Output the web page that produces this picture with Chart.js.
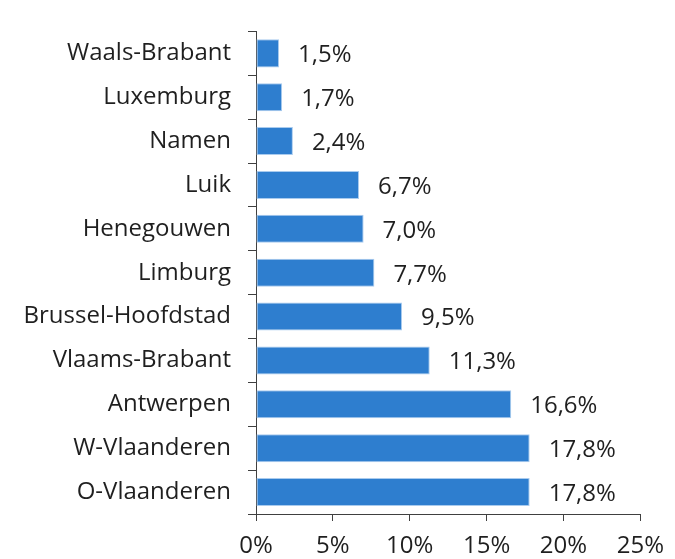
<!DOCTYPE html>
<html>
<head>
<meta charset="utf-8">
<script src="https://cdn.jsdelivr.net/npm/chart.js@4/dist/chart.umd.min.js"></script>
<style>
  html, body { margin: 0; padding: 0; background: #ffffff; }
  #wrap { width: 675px; height: 559px; }
</style>
</head>
<body>
<div id="wrap"><canvas id="provChart"></canvas></div>
<script>
// Categorieën en waarden (aandeel in %)
const provinces = ['Waals-Brabant', 'Luxemburg', 'Namen', 'Luik', 'Henegouwen', 'Limburg',
    'Brussel-Hoofdstad', 'Vlaams-Brabant', 'Antwerpen', 'W-Vlaanderen', 'O-Vlaanderen'];
const shares = [1.5, 1.7, 2.4, 6.7, 7.0, 7.7, 9.5, 11.3, 16.6, 17.8, 17.8];
const xTicks = [0, 5, 10, 15, 20, 25];

const fmtPct = v => v.toFixed(1).replace('.', ',') + '%';

// Labels rechts van de balken
const valueLabels = {
    id: 'valueLabels',
    afterDatasetsDraw(chart) {
        const ctx = chart.ctx;
        const meta = chart.getDatasetMeta(0);
        ctx.save();
        ctx.font = '24px "Open Sans"';
        ctx.fillStyle = '#1f1f1f';
        ctx.textAlign = 'left';
        ctx.textBaseline = 'middle';
        meta.data.forEach((bar, i) => {
            ctx.fillText(fmtPct(shares[i]), bar.x + 19, bar.y + 2);
        });
        ctx.restore();
    }
};

new Chart(document.getElementById('provChart').getContext('2d'), {
    type: 'bar',
    data: {
        labels: provinces,
        datasets: [{
            data: shares,
            backgroundColor: '#2E7ECF',
            borderColor: '#A9CBEE',
            borderWidth: 1,
            borderSkipped: false,
            categoryPercentage: 1,
            barPercentage: 0.64
        }]
    },
    options: {
        indexAxis: 'y',
        responsive: true,
        maintainAspectRatio: false,
        animation: false,
        layout: { padding: { top: 9, right: 31, left: 0, bottom: 0 } },
        scales: {
            x: {
                min: 0,
                max: 25,
                afterBuildTicks: scale => { scale.ticks = xTicks.map(v => ({ value: v })); },
                afterFit: scale => { scale.height = 45; },
                ticks: {
                    color: '#1f1f1f',
                    font: { family: 'Open Sans', size: 24 },
                    padding: 11,
                    maxRotation: 0,
                    callback: v => v + '%'
                },
                grid: { drawOnChartArea: false, drawTicks: true, tickLength: 7, color: '#404040' },
                border: { display: true, color: '#404040', width: 1 }
            },
            y: {
                afterFit: scale => { scale.width = 256; },
                ticks: {
                    color: '#1f1f1f',
                    font: { family: 'Open Sans', size: 24 },
                    padding: 17
                },
                grid: { drawOnChartArea: false, drawTicks: true, tickLength: 8, offset: true, color: '#404040' },
                border: { display: true, color: '#404040', width: 1 }
            }
        },
        plugins: {
            legend: { display: false },
            tooltip: { enabled: false }
        }
    },
    plugins: [valueLabels]
});
</script>
</body>
</html>
